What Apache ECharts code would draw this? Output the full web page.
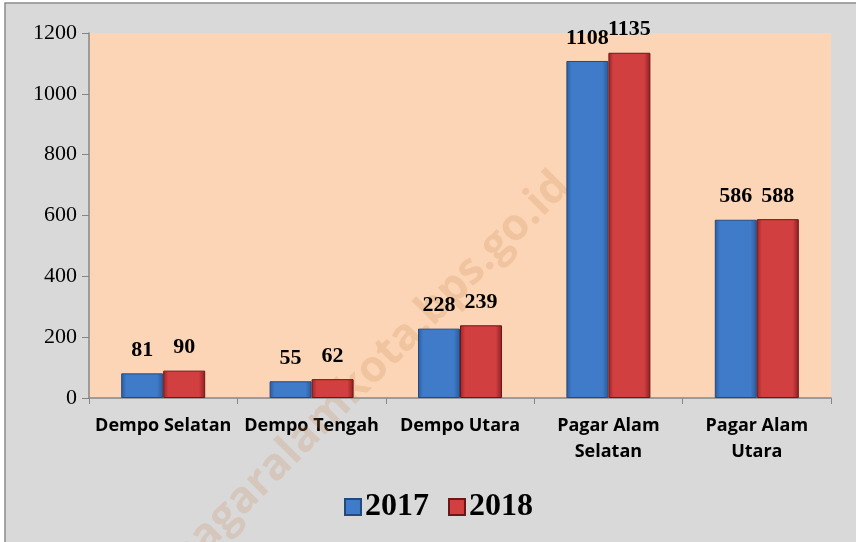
<!DOCTYPE html>
<html>
<head>
<meta charset="utf-8">
<script src="https://cdn.jsdelivr.net/npm/echarts@6/dist/echarts.min.js"></script>
<style>
  html, body { margin: 0; padding: 0; background: #ffffff; }
  #chart { width: 856px; height: 542px; }
</style>
</head>
<body>
<div id="chart"></div>
<script>
const categories = ['Dempo Selatan', 'Dempo Tengah', 'Dempo Utara', 'Pagar Alam\nSelatan', 'Pagar Alam\nUtara']
const years = ['2017', '2018']
const values2017 = [81, 55, 228, 1108, 586]
const values2018 = [90, 62, 239, 1135, 588]
const yTicks = { min: 0, max: 1200, interval: 200 }

const serif = '"Liberation Serif", "DejaVu Serif", serif'
const sans = '"Open Sans", "Noto Sans", sans-serif'

// bevel-ish fill, dark at the edges and lighter in the middle
function barFill(dark, mid, edge) {
  return new echarts.graphic.LinearGradient(0, 0, 1, 0, [
    { offset: 0, color: dark },
    { offset: 0.12, color: mid },
    { offset: 0.85, color: mid },
    { offset: 1, color: edge }
  ])
}

const blue = barFill('#2c5c9e', '#3f7bc9', '#2d5a96')
const red = barFill('#9c2426', '#d23f40', '#8e1f22')

const chart = echarts.init(document.getElementById('chart'))

function seriesFor(name, data, fill, border) {
  return {
    name,
    type: 'bar',
    data,
    barWidth: 42,
    barGap: '0%',
    z: 3,
    itemStyle: { color: fill, borderColor: border, borderWidth: 1 },
    label: {
      show: true,
      position: 'top',
      distance: 12,
      fontFamily: serif,
      fontWeight: 'bold',
      fontSize: 22,
      color: '#000'
    }
  }
}

chart.setOption({
  animation: false,
  graphic: [
    {
      type: 'rect',
      z: -10,
      shape: { x: 5, y: 3, width: 900, height: 600 },
      style: { fill: '#d9d9d9', stroke: '#8c8c8c', lineWidth: 1.5 }
    },
    {
      type: 'text',
      z: 1,
      x: 370,
      y: 372,
      rotation: Math.PI / 4,
      style: {
        text: 'pagaralamkota.bps.go.id',
        fontFamily: sans,
        fontWeight: 'bold',
        fontSize: 44,
        fill: 'rgba(205, 130, 80, 0.2)',
        align: 'center',
        verticalAlign: 'middle'
      }
    }
  ],
  grid: {
    left: 89, right: 25, top: 33, bottom: 144,
    show: true,
    backgroundColor: '#fbd5b5',
    borderWidth: 0
  },
  legend: {
    data: years,
    top: 486,
    left: 339,
    itemWidth: 16,
    itemHeight: 16,
    itemGap: 19,
    icon: 'rect',
    textStyle: { fontFamily: serif, fontWeight: 'bold', fontSize: 32, color: '#000', padding: [0, 0, 0, -1] }
  },
  xAxis: {
    type: 'category',
    data: categories,
    axisLine: { lineStyle: { color: '#868686', width: 1.5 } },
    axisTick: { show: true, length: 6, alignWithLabel: false, lineStyle: { color: '#868686' } },
    axisLabel: {
      interval: 0,
      margin: 15,
      fontFamily: sans,
      fontWeight: 'bold',
      fontSize: 18,
      lineHeight: 26,
      color: '#000'
    }
  },
  yAxis: {
    type: 'value',
    min: yTicks.min,
    max: yTicks.max,
    interval: yTicks.interval,
    splitLine: { show: false },
    axisLine: { show: true, lineStyle: { color: '#868686', width: 1.5 } },
    axisTick: { show: true, length: 7, lineStyle: { color: '#868686' } },
    axisLabel: { fontFamily: serif, fontSize: 22, color: '#000', margin: 12, formatter: (v) => String(v) }
  },
  series: [
    seriesFor(years[0], values2017, blue, '#24497d'),
    seriesFor(years[1], values2018, red, '#6e1517')
  ]
})
</script>
</body>
</html>
